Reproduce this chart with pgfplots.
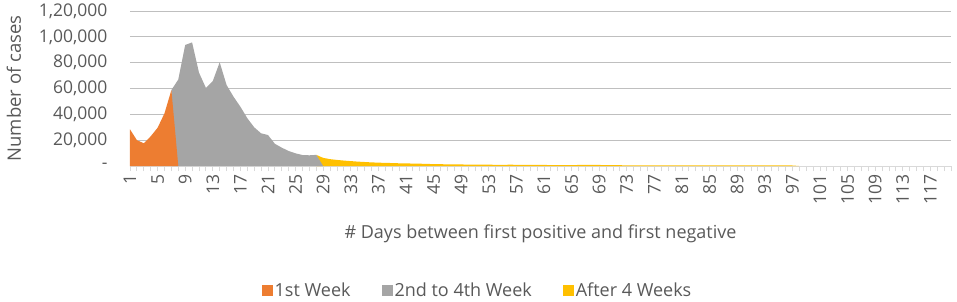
\documentclass[border=0pt]{standalone}
\usepackage{pgfplots}
\pgfplotsset{compat=1.18}
\usepackage{fontspec}
\setmainfont{Open Sans}
\definecolor{myorange}{HTML}{ED7D31}
\definecolor{mygray}{HTML}{A5A5A5}
\definecolor{myyellow}{HTML}{FFC000}
\definecolor{txt}{HTML}{595959}
\definecolor{grid}{HTML}{D9D9D9}
\begin{document}
\begin{tikzpicture}
\useasboundingbox (-130pt,-135pt) rectangle (827pt,166pt);
\begin{axis}[
  at={(0,0)}, anchor=south west,
  scale only axis, width=821pt, height=155pt,
  xmin=1, xmax=120, ymin=0, ymax=120000,
  scaled y ticks=false,
  axis lines*=left,
  y axis line style={draw=none},
  x axis line style={draw=grid, line width=0.8pt},
  ytick={0,20000,40000,60000,80000,100000,120000},
  yticklabels={-,{20,000},{40,000},{60,000},{80,000},{1,00,000},{1,20,000}},
  ytick style={draw=none},
  ymajorgrids, xmajorgrids=false, xminorgrids=false, yminorgrids=false,
  grid style={grid, line width=0.8pt},
  xtick={1,5,...,117},
  minor xtick={1,2,...,120},
  xtick style={draw=grid, line width=0.8pt},
  minor tick length=5pt, major tick length=5pt,
  tick align=outside,
  /pgf/number format/assume math mode=true,
  ticklabel style={font=\fontsize{17.5}{20}\selectfont, text=txt},
  xticklabel style={rotate=90, anchor=east},
  yticklabel style={anchor=east, xshift=-14pt},
  every axis x label/.style={at={(axis description cs:0.5,0)}, anchor=center, yshift=-68pt, font=\fontsize{18}{20}\selectfont, text=txt},
  xlabel={\# Days between first positive and first negative},
  legend image code/.code={\fill[#1] (0pt,-5.5pt) rectangle (11pt,5.5pt);},
  legend columns=3,
  legend style={at={(axis description cs:0.5,0)}, anchor=center, xshift=-63pt, yshift=-124pt, draw=none, fill=none,
    font=\fontsize{18}{20}\selectfont, text=txt,
    /tikz/every even column/.append style={column sep=29pt}},
]
\addlegendimage{fill=myorange, draw=none}
\addlegendentry{1st Week}
\addlegendimage{fill=mygray, draw=none}
\addlegendentry{2nd to 4th Week}
\addlegendimage{fill=myyellow, draw=none}
\addlegendentry{After 4 Weeks}
\addplot[fill=myyellow, draw=none, forget plot] coordinates {
(28,8600)(29,6300)(30,5300)(31,4700)(32,4200)(33,3800)(34,3400)(35,3100)(36,2800)(37,2600)(38,2400)(39,2300)(40,2100)(41,2000)(42,1900)(43,1800)(44,1600)(45,1500)(46,1400)(47,1300)(48,1200)(49,1200)(50,1100)(51,1100)(52,1000)(53,1000)(54,950)(55,900)(56,1000)(57,950)(58,850)(59,800)(60,800)(61,800)(62,750)(63,750)(64,700)(65,700)(66,800)(67,900)(68,850)(69,800)(70,700)(71,650)(72,600)(73,550)(74,550)(75,500)(76,500)(77,500)(78,500)(79,500)(80,500)(81,500)(82,500)(83,500)(84,500)(85,500)(86,500)(87,500)(88,500)(89,500)(90,500)(91,500)(92,500)(93,500)(94,500)(95,450)(96,450)(97,400)(98,0)
} \closedcycle;
\addplot[fill=mygray, draw=none, forget plot] coordinates {
(7,58800)(8,67000)(9,93700)(10,95700)(11,72300)(12,60500)(13,65800)(14,80300)(15,62700)(16,53700)(17,45900)(18,37000)(19,30000)(20,25300)(21,24000)(22,17200)(23,14200)(24,11600)(25,9800)(26,8500)(27,8300)(28,8600)(29,0)
} \closedcycle;
\addplot[fill=myorange, draw=none, forget plot] coordinates {
(1,28400)(2,20000)(3,17600)(4,23000)(5,29600)(6,40800)(7,58800)(8,0)
} \closedcycle;
\end{axis}
\node[rotate=90, text=txt, font=\fontsize{18.5}{20}\selectfont] at (-116pt,77.5pt) {Number of cases};
\end{tikzpicture}
\end{document}
